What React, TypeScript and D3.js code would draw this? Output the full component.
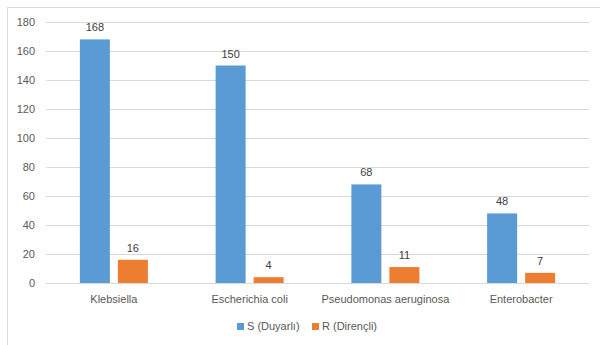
import React from "react";
import * as d3 from "d3";

const categories = ["Klebsiella", "Escherichia coli", "Pseudomonas aeruginosa", "Enterobacter"];
const seriesNames = ["S (Duyarlı)", "R (Dirençli)"];
const sValues = [168, 150, 68, 48];
const rValues = [16, 4, 11, 7];
const yTicks = [0, 20, 40, 60, 80, 100, 120, 140, 160, 180];
const colors = ["#5B9BD5", "#ED7D31"];

export default function App() {
  const W = 600, H = 345;
  const left = 46, right = 589, top = 22, bottom = 283;
  const x = d3.scaleBand<string>().domain(categories).range([left, right]).paddingInner(0).paddingOuter(0);
  const y = d3.scaleLinear().domain([0, 180]).range([bottom, top]);
  const barW = 30, gap = 8;
  const series = [sValues, rValues];
  const font = "'Liberation Sans', Arial, sans-serif";
  return (
    <svg width={W} height={H} style={{ position: "absolute", left: 0, top: 0 }} fontFamily={font}>
      <rect x={0} y={0} width={W} height={H} fill="#fff" />
      <rect x={7.5} y={7.5} width={W + 10} height={H + 10} fill="none" stroke="#D9D9D9" strokeWidth={1} />
      {yTicks.map((t) => (
        <g key={t}>
          <line x1={left} x2={right} y1={Math.round(y(t)) + 0.5} y2={Math.round(y(t)) + 0.5} stroke="#D9D9D9" strokeWidth={1} />
          <text x={35} y={y(t) + 4} textAnchor="end" fontSize={11} fill="#595959">{t}</text>
        </g>
      ))}
      {categories.map((c, i) => {
        const cx = (x(c) as number) + x.bandwidth() / 2;
        return (
          <g key={c}>
            {series.map((vals, s) => {
              const bx = s === 0 ? cx - gap / 2 - barW : cx + gap / 2;
              const v = vals[i];
              return (
                <g key={s}>
                  <rect x={bx} y={y(v)} width={barW} height={y(0) - y(v)} fill={colors[s]} />
                  <text x={bx + barW / 2} y={y(v) - 8} textAnchor="middle" fontSize={11} fill="#404040">{v}</text>
                </g>
              );
            })}
            <text x={cx} y={303} textAnchor="middle" fontSize={11} fill="#595959">{c}</text>
          </g>
        );
      })}
      {seriesNames.map((n, s) => {
        const lx = s === 0 ? 237 : 312;
        return (
          <g key={n}>
            <rect x={lx} y={323} width={7} height={7} fill={colors[s]} />
            <text x={lx + 10} y={330} fontSize={11} fill="#595959">{n}</text>
          </g>
        );
      })}
    </svg>
  );
}
